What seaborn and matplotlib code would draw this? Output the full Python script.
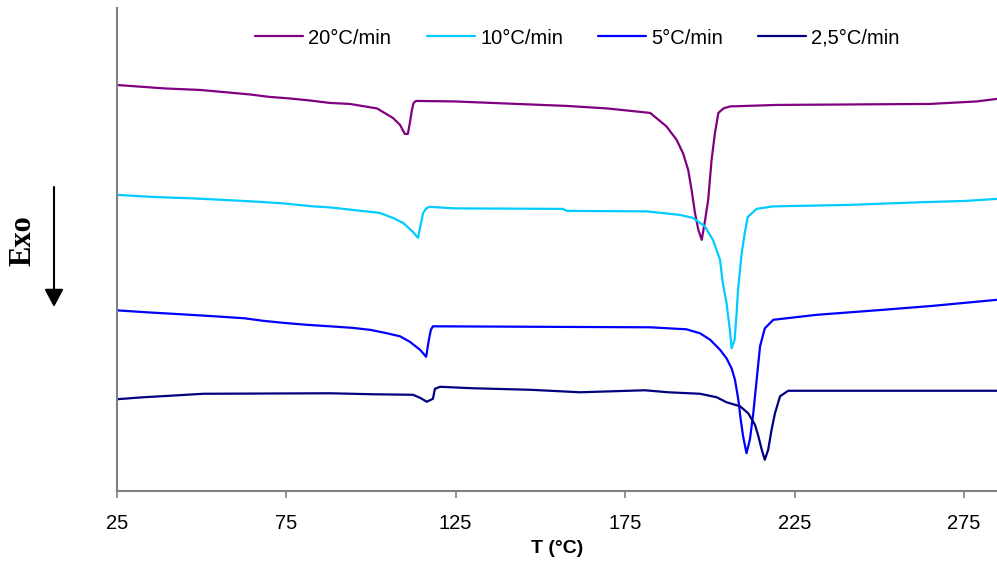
import pandas as pd
import matplotlib
matplotlib.use("Agg")
import matplotlib.pyplot as plt
from matplotlib.lines import Line2D
import seaborn as sns

# DSC heating curves, T in degC, heat flow in arbitrary units (exo down)
rates = ["20°C/min", "10°C/min", "5°C/min", "2,5°C/min"]
colors = ["#800080", "#00CCFF", "#0000FF", "#000080"]

t_20 = [25, 39.2, 49.6, 57.8, 64.3, 70.2, 76.0, 81.9, 87.9, 93.8,
        101.8, 106.5, 108.6, 110.0, 110.9, 111.5, 112.1, 112.6, 113.3, 124.8,
        143.1, 157.9, 169.7, 182.4, 187.2, 190.2, 192.1, 193.6, 194.6, 195.6,
        196.6, 197.6, 198.6, 199.5, 200.5, 201.5, 202.5, 204.0, 205.9, 219.7,
        264.9, 278.7, 284.6]
hf_20 = [8.12, 8.05, 8.02, 7.97, 7.93, 7.88, 7.85, 7.81, 7.76, 7.74,
         7.65, 7.46, 7.32, 7.14, 7.14, 7.36, 7.62, 7.76, 7.80, 7.79,
         7.74, 7.70, 7.65, 7.56, 7.29, 7.02, 6.75, 6.42, 6.02, 5.56,
         5.22, 5.02, 5.42, 5.82, 6.62, 7.16, 7.56, 7.65, 7.69, 7.72,
         7.74, 7.79, 7.84]

t_10 = [25, 35.4, 47.5, 59.3, 67.3, 74.1, 82.9, 87.9, 95.8, 102.6,
        106.5, 109.5, 112.4, 113.9, 115.4, 116.5, 117.4, 124.8, 156.6, 157.8,
        181.4, 191.1, 195.0, 198.5, 200.9, 203.0, 203.8, 204.9, 205.9, 206.4,
        207.3, 207.9, 208.3, 209.4, 210.3, 211.2, 213.8, 218.6, 241.3, 261.0,
        275.7, 284.6]
hf_10 = [5.92, 5.88, 5.85, 5.81, 5.78, 5.75, 5.69, 5.67, 5.61, 5.56,
         5.46, 5.36, 5.18, 5.06, 5.56, 5.66, 5.68, 5.65, 5.64, 5.60,
         5.59, 5.52, 5.46, 5.29, 5.02, 4.62, 4.16, 3.76, 3.22, 2.85,
         3.02, 3.56, 4.02, 4.76, 5.16, 5.48, 5.64, 5.69, 5.72, 5.77,
         5.80, 5.84]

t_5 = [25, 33.9, 44.3, 54.0, 62.8, 68.2, 74.1, 81.1, 87.9, 94.4,
       99.7, 104.1, 108.6, 111.5, 114.5, 116.3, 117.1, 117.7, 118.3, 182.4,
       193.1, 197.1, 200.1, 203.0, 204.9, 206.4, 207.4, 208.4, 209.1, 209.8,
       210.8, 211.8, 212.8, 213.8, 214.8, 216.2, 218.7, 231.5, 251.1, 265.9,
       284.6]
hf_5 = [3.61, 3.57, 3.53, 3.49, 3.45, 3.40, 3.36, 3.32, 3.29, 3.26,
        3.22, 3.16, 3.09, 2.98, 2.82, 2.68, 3.02, 3.22, 3.29, 3.27,
        3.23, 3.15, 3.02, 2.82, 2.65, 2.45, 2.22, 1.82, 1.42, 1.09,
        0.75, 1.02, 1.55, 2.22, 2.89, 3.25, 3.42, 3.52, 3.62, 3.70,
        3.82]

t_25 = [25, 32.8, 40.7, 50.5, 87.9, 100.6, 112.4, 114.5, 116.5, 118.3,
        118.9, 120.4, 130.1, 146.9, 161.7, 180.8, 187.7, 197.1, 202.0, 204.9,
        208.9, 211.3, 213.3, 214.3, 215.3, 216.2, 217.2, 218.2, 219.2, 220.7,
        223.1, 284.6]
hf_25 = [1.83, 1.87, 1.90, 1.94, 1.95, 1.93, 1.92, 1.86, 1.78, 1.84,
         2.04, 2.08, 2.05, 2.02, 1.97, 2.01, 1.97, 1.94, 1.87, 1.77,
         1.69, 1.55, 1.32, 1.09, 0.82, 0.62, 0.82, 1.22, 1.55, 1.89,
         2.00, 2.00]

xticks = [25, 75, 125, 175, 225, 275]

frames = []
for rate, t, hf in zip(rates, [t_20, t_10, t_5, t_25], [hf_20, hf_10, hf_5, hf_25]):
    frames.append(pd.DataFrame({"T": t, "hf": hf, "rate": rate}))
df = pd.concat(frames, ignore_index=True)

sns.set_style("white")
plt.rcParams["font.family"] = ["Liberation Sans", "DejaVu Sans"]
plt.rcParams["text.color"] = "black"
plt.rcParams["axes.labelcolor"] = "black"
plt.rcParams["xtick.labelcolor"] = "black"

W, H = 997, 563
fig = plt.figure(figsize=(W / 100, H / 100), dpi=100)
ax = fig.add_axes([0.117, 0.1284, 0.883, 0.8574])

sns.lineplot(data=df, x="T", y="hf", hue="rate", hue_order=rates,
             palette=colors, sort=False, estimator=None, linewidth=1.6,
             legend=False, ax=ax)

ax.set_xlim(25, 284.7)
ax.set_ylim(0, 9.66)
ax.set_xticks(xticks)
ax.set_xticklabels([str(v) for v in xticks], fontsize=14.5, color="black")
ax.set_yticks([])
ax.set_ylabel("")
ax.set_xlabel("T (°C)", fontsize=14, fontweight="bold", labelpad=5, color="black")
ax.tick_params(axis="x", direction="out", length=5, width=1.2, color="#808080",
               bottom=True, pad=12)

for side in ["top", "right"]:
    ax.spines[side].set_visible(False)
for side in ["left", "bottom"]:
    ax.spines[side].set_color("#808080")
    ax.spines[side].set_linewidth(1.5)

# legend across the top (drawn by hand so all labels share one baseline)
legend_x = [255, 427, 598, 758]
line_y = 1 - 36 / H
text_y = 1 - 43.5 / H
for x0, rate, c in zip(legend_x, rates, colors):
    fig.add_artist(Line2D([x0 / W, (x0 + 48) / W], [line_y, line_y],
                          transform=fig.transFigure, color=c, lw=1.6))
    fig.text((x0 + 53) / W, text_y, rate, fontsize=14.5, color="black",
             ha="left", va="baseline")

# Exo arrow and label
fig.text(23 / W, 1 - 241 / H, "Exo", rotation=90, ha="center", va="center",
         fontsize=22, fontweight="bold", family="Liberation Serif", color="black")
fig.add_artist(matplotlib.patches.FancyArrowPatch(
    (54 / W, 1 - 187 / H), (54 / W, 1 - 307 / H),
    transform=fig.transFigure, arrowstyle="-|>,head_length=0.6,head_width=0.32",
    mutation_scale=18, color="black", lw=1.5, shrinkA=0, shrinkB=0))

fig.savefig("out.png", dpi=100)
